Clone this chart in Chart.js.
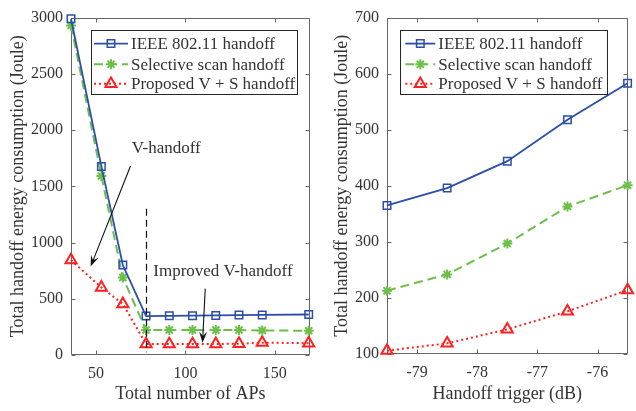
<!DOCTYPE html>
<html><head><meta charset="utf-8">
<script src="https://cdn.jsdelivr.net/npm/chart.js@4/dist/chart.umd.min.js"></script>
<style>
html,body{margin:0;padding:0;background:#fff;}
#wrap{position:relative;width:636px;height:411px;overflow:hidden;background:#fff}
#c1{position:absolute;left:0;top:0}
#c2{position:absolute;left:318px;top:0}
</style></head><body>
<div id="wrap"><canvas id="c1" width="318" height="411"></canvas><canvas id="c2" width="318" height="411"></canvas></div>
<script>
// ---- data: left panel ----
const apCounts = [36, 53, 65, 78, 91, 104, 117, 130, 143, 169];
const ieeeAP   = [2990, 1677, 800, 346, 348, 350, 352, 355, 356, 360];
const selAP    = [2930, 1592, 689, 222, 222, 222, 222, 222, 218, 216];
const propAP   = [844, 600, 454, 97, 97, 97, 98, 100, 110, 105];
const apTicks = [50, 100, 150];
const energyTicksAP = [0, 500, 1000, 1500, 2000, 2500, 3000];
// ---- data: right panel ----
const triggers = [-79.5, -78.5, -77.5, -76.5, -75.5];
const ieeeTr   = [365, 396, 444, 518, 583];
const selTr    = [213, 242, 297, 363, 401];
const propTr   = [106, 119, 144, 176, 214];
const trTicks = [-79, -78, -77, -76];
const energyTicksTr = [100, 200, 300, 400, 500, 600, 700];
const seriesNames = ['IEEE 802.11 handoff', 'Selective scan handoff', 'Proposed V + S handoff'];

const FONT = "'Liberation Serif', 'Times New Roman', serif";
const TXT = '#333333';
const styles = [
  {borderColor:'#2B4EA8', borderWidth:1.8, borderDash:[], pointStyle:'rect', pointRadius:5.3, pointBorderWidth:1.5, pointBorderColor:'#2B4EA8', pointBackgroundColor:'rgba(255,255,255,0)'},
  {borderColor:'#6CC04A', borderWidth:2, borderDash:[9,5], pointStyle:'star', pointRadius:5, pointBorderWidth:2, pointBorderColor:'#6CC04A', pointBackgroundColor:'rgba(255,255,255,0)'},
  {borderColor:'#FF2020', borderWidth:2, borderDash:[2,3], pointStyle:'triangle', pointRadius:6.4, pointBorderWidth:2, pointBorderColor:'#FF2020', pointBackgroundColor:'rgba(255,255,255,0)'}
];
function mkDatasets(xs, series) {
  return series.map((ys, i) => Object.assign({
    label: seriesNames[i],
    data: xs.map((x, j) => ({x: x, y: ys[j]})),
    tension: 0, fill: false, clip: false
  }, styles[i]));
}

function drawMarker(ctx, st, cx, cy) {
  const r = st.pointRadius;
  ctx.save();
  ctx.setLineDash([]);
  ctx.strokeStyle = st.pointBorderColor; ctx.lineWidth = st.pointBorderWidth;
  ctx.beginPath();
  if (st.pointStyle === 'rect') {
    const s = r * Math.SQRT1_2;
    ctx.rect(cx - s, cy - s, 2 * s, 2 * s);
  } else if (st.pointStyle === 'triangle') {
    let a = 0;
    ctx.moveTo(cx + Math.sin(a) * r, cy - Math.cos(a) * r);
    a += 2 * Math.PI / 3; ctx.lineTo(cx + Math.sin(a) * r, cy - Math.cos(a) * r);
    a += 2 * Math.PI / 3; ctx.lineTo(cx + Math.sin(a) * r, cy - Math.cos(a) * r);
    ctx.closePath();
  } else {
    ctx.moveTo(cx - r, cy); ctx.lineTo(cx + r, cy);
    ctx.moveTo(cx, cy - r); ctx.lineTo(cx, cy + r);
    const d = r * Math.SQRT1_2;
    ctx.moveTo(cx - d, cy - d); ctx.lineTo(cx + d, cy + d);
    ctx.moveTo(cx - d, cy + d); ctx.lineTo(cx + d, cy - d);
  }
  ctx.stroke();
  ctx.restore();
}

const framePlugin = {
  id: 'frame',
  beforeDatasetsDraw(chart) {
    const {ctx, chartArea: a, scales: {x, y}} = chart;
    ctx.save();
    ctx.strokeStyle = '#666666'; ctx.lineWidth = 1; ctx.setLineDash([]);
    const L = Math.round(a.left) + 0.5, R = Math.round(a.right) - 0.5, T = Math.round(a.top) + 0.5, B = Math.round(a.bottom) - 0.5;
    ctx.beginPath();
    ctx.rect(L, T, R - L, B - T);
    const tl = 4;
    x.ticks.forEach(t => {
      const px = Math.round(x.getPixelForValue(t.value)) + 0.5;
      ctx.moveTo(px, B); ctx.lineTo(px, B - tl);
      ctx.moveTo(px, T); ctx.lineTo(px, T + tl);
    });
    y.ticks.forEach(t => {
      const py = Math.round(y.getPixelForValue(t.value)) + 0.5;
      ctx.moveTo(L, py); ctx.lineTo(L + tl, py);
      ctx.moveTo(R, py); ctx.lineTo(R - tl, py);
    });
    ctx.stroke();
    ctx.restore();
  },
  afterDatasetsDraw(chart, args, opts) {
    const {ctx, chartArea: a} = chart;
    const lg = opts.legend;
    ctx.save();
    const bx = a.left + lg.dx, by = a.top + lg.dy;
    ctx.fillStyle = '#fff';
    ctx.fillRect(bx, by, lg.w, lg.h);
    ctx.strokeStyle = '#262626'; ctx.lineWidth = 1;
    ctx.strokeRect(Math.round(bx) + 0.5, Math.round(by) + 0.5, Math.round(lg.w), Math.round(lg.h));
    ctx.font = '17px ' + FONT; ctx.fillStyle = TXT; ctx.textBaseline = 'middle'; ctx.textAlign = 'left';
    chart.data.datasets.forEach((d, i) => {
      const cy = by + lg.rows[i];
      const x1 = bx + lg.l1, x2 = bx + lg.l2;
      ctx.save();
      ctx.strokeStyle = d.borderColor; ctx.lineWidth = d.borderWidth; ctx.setLineDash(d.borderDash || []);
      ctx.beginPath(); ctx.moveTo(x1, cy); ctx.lineTo(x2, cy); ctx.stroke();
      ctx.restore();
      drawMarker(ctx, d, (x1 + x2) / 2, cy);
      ctx.fillText(d.label, bx + lg.tx, cy + 1);
    });
    ctx.restore();
    if (opts.annotate) opts.annotate(chart);
  }
};

function arrow(ctx, x1, y1, x2, y2) {
  const ang = Math.atan2(y2 - y1, x2 - x1);
  const hl = 11, hw = 4;
  ctx.save();
  ctx.strokeStyle = '#111'; ctx.fillStyle = '#111'; ctx.lineWidth = 1.1; ctx.setLineDash([]);
  ctx.beginPath(); ctx.moveTo(x1, y1);
  ctx.lineTo(x2 - Math.cos(ang) * hl * 0.6, y2 - Math.sin(ang) * hl * 0.6); ctx.stroke();
  ctx.beginPath();
  ctx.moveTo(x2, y2);
  ctx.lineTo(x2 - Math.cos(ang) * hl + Math.sin(ang) * hw, y2 - Math.sin(ang) * hl - Math.cos(ang) * hw);
  ctx.lineTo(x2 - Math.cos(ang) * hl * 0.6, y2 - Math.sin(ang) * hl * 0.6);
  ctx.lineTo(x2 - Math.cos(ang) * hl - Math.sin(ang) * hw, y2 - Math.sin(ang) * hl + Math.cos(ang) * hw);
  ctx.closePath(); ctx.fill();
  ctx.restore();
}

function annotateLeft(chart) {
  const {ctx, scales: {x, y}} = chart;
  const X = v => x.getPixelForValue(v), Y = v => y.getPixelForValue(v);
  ctx.save();
  ctx.strokeStyle = '#111'; ctx.lineWidth = 1.2; ctx.setLineDash([7, 4]);
  ctx.beginPath(); ctx.moveTo(Math.round(X(78)) + 0.5, Y(1300)); ctx.lineTo(Math.round(X(78)) + 0.5, Y(25)); ctx.stroke();
  ctx.setLineDash([]);
  ctx.font = '17px ' + FONT; ctx.fillStyle = TXT; ctx.textAlign = 'center'; ctx.textBaseline = 'middle';
  ctx.fillText('V-handoff', X(89.3), Y(1832));
  ctx.fillText('Improved V-handoff', X(121), Y(739));
  ctx.restore();
  arrow(ctx, X(69.3), Y(1680), X(47), Y(787));
  arrow(ctx, X(111.1), Y(590), X(109.6), Y(110));
}

function tickFont() { return {family: FONT, size: 16}; }
function makeChart(id, xs, series, xr, xticks, yr, yticks, xTitle, pad, yW, xH, yTitlePad, legend, annotate) {
  return new Chart(document.getElementById(id), {
    type: 'line',
    data: {datasets: mkDatasets(xs, series)},
    plugins: [framePlugin],
    options: {
      responsive: false, animation: false, devicePixelRatio: 1,
      layout: {padding: pad},
      plugins: {legend: {display: false}, tooltip: {enabled: false}, frame: {legend: legend, annotate: annotate}},
      scales: {
        x: {
          type: 'linear', min: xr[0], max: xr[1],
          afterBuildTicks: s => { s.ticks = xticks.map(v => ({value: v})); },
          afterFit: s => { s.height = xH; },
          ticks: {font: tickFont(), color: TXT, padding: 9, maxRotation: 0, autoSkip: false, callback: v => String(v)},
          grid: {display: false, drawTicks: false}, border: {display: false},
          title: {display: true, text: xTitle, font: {family: FONT, size: 18}, color: TXT, padding: {top: 0, bottom: 6}}
        },
        y: {
          type: 'linear', min: yr[0], max: yr[1],
          afterBuildTicks: s => { s.ticks = yticks.map(v => ({value: v})); },
          afterFit: s => { s.width = yW; },
          ticks: {font: tickFont(), color: TXT, padding: 8, autoSkip: false, callback: v => String(v)},
          grid: {display: false, drawTicks: false}, border: {display: false},
          title: {display: true, text: 'Total handoff energy consumption (Joule)', font: {family: FONT, size: 18}, color: TXT, padding: {top: yTitlePad, bottom: 0}}
        }
      }
    }
  });
}

makeChart('c1', apCounts, [ieeeAP, selAP, propAP], [36, 169.5], apTicks, [0, 3000], energyTicksAP,
  'Total number of APs', {top: 14, right: 7, left: 0, bottom: 0}, 71, 56, 7,
  {dx: 20, dy: 12.7, w: 206, h: 64, rows: [13.3, 34, 53.5], l1: 3, l2: 37, tx: 40}, annotateLeft);
makeChart('c2', triggers, [ieeeTr, selTr, propTr], [-79.5, -75.5], trTicks, [100, 700], energyTicksTr,
  'Handoff trigger (dB)', {top: 14, right: 1, left: 0, bottom: 0}, 69, 57, 13,
  {dx: 13.3, dy: 12.7, w: 207, h: 64, rows: [13.3, 34, 53.5], l1: 5, l2: 35, tx: 38}, null);
</script>
</body></html>
